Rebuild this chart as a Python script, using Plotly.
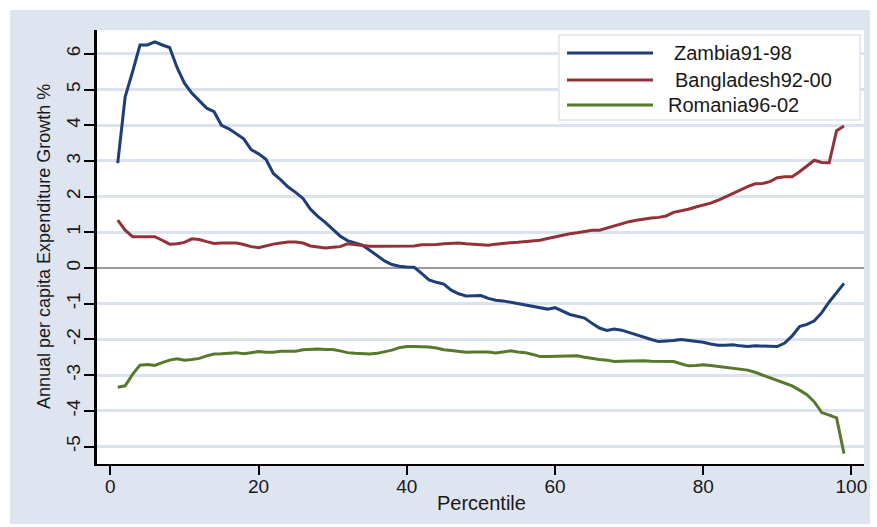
import plotly.graph_objects as go

percentile = list(range(1, 100))

zambia = [2.94, 4.8, 5.5, 6.25, 6.25, 6.34, 6.25, 6.18, 5.62, 5.18,
          4.9, 4.68, 4.48, 4.38, 4.0, 3.9, 3.75, 3.62, 3.32, 3.2,
          3.05, 2.65, 2.47, 2.27, 2.12, 1.95, 1.65, 1.45, 1.28, 1.1,
          0.9, 0.77, 0.7, 0.64, 0.5, 0.36, 0.2, 0.1, 0.05, 0.03,
          0.02, -0.15, -0.33, -0.4, -0.45, -0.62, -0.72, -0.78, -0.78, -0.77,
          -0.85, -0.9, -0.92, -0.96, -0.99, -1.03, -1.07, -1.12, -1.15, -1.11,
          -1.2, -1.3, -1.35, -1.4, -1.55, -1.68, -1.75, -1.71, -1.74, -1.81,
          -1.86, -1.93, -2.0, -2.06, -2.05, -2.03, -2.0, -2.02, -2.04, -2.08,
          -2.13, -2.16, -2.16, -2.15, -2.18, -2.2, -2.18, -2.18, -2.19, -2.2,
          -2.1, -1.9, -1.64, -1.58, -1.48, -1.25, -0.95, -0.68, -0.43]

bangladesh = [1.34, 1.06, 0.88, 0.88, 0.88, 0.88, 0.78, 0.67, 0.68, 0.72,
              0.82, 0.8, 0.74, 0.69, 0.7, 0.7, 0.7, 0.66, 0.6, 0.57,
              0.63, 0.67, 0.7, 0.73, 0.73, 0.7, 0.62, 0.58, 0.56, 0.58,
              0.6, 0.68, 0.66, 0.62, 0.61, 0.61, 0.61, 0.61, 0.61, 0.61,
              0.62, 0.65, 0.65, 0.66, 0.68, 0.69, 0.7, 0.68, 0.67, 0.66,
              0.64, 0.67, 0.7, 0.71, 0.72, 0.74, 0.76, 0.78, 0.83, 0.88,
              0.92, 0.96, 0.99, 1.03, 1.06, 1.06, 1.12, 1.2, 1.26, 1.3,
              1.34, 1.38, 1.4, 1.42, 1.46, 1.56, 1.6, 1.65, 1.71, 1.76,
              1.82, 1.9, 2.0, 2.1, 2.2, 2.28, 2.36, 2.37, 2.42, 2.53,
              2.56, 2.56, 2.7, 2.86, 3.02, 2.96, 2.95, 3.85, 3.98]

romania = [-3.34, -3.3, -2.98, -2.72, -2.7, -2.73, -2.65, -2.58, -2.54, -2.58,
           -2.56, -2.53, -2.46, -2.41, -2.4, -2.38, -2.37, -2.4, -2.38, -2.34,
           -2.36, -2.36, -2.33, -2.32, -2.33, -2.29, -2.27, -2.27, -2.28, -2.28,
           -2.32, -2.37, -2.39, -2.4, -2.41, -2.39, -2.35, -2.3, -2.23, -2.2,
           -2.2, -2.2, -2.21, -2.24, -2.29, -2.31, -2.33, -2.36, -2.35, -2.34,
           -2.35, -2.38, -2.34, -2.32, -2.35, -2.37, -2.42, -2.48, -2.48, -2.48,
           -2.48, -2.46, -2.46, -2.5, -2.54, -2.56, -2.58, -2.62, -2.61, -2.6,
           -2.6, -2.6, -2.61, -2.62, -2.62, -2.62, -2.68, -2.74, -2.73, -2.71,
           -2.73, -2.76, -2.78, -2.8, -2.83, -2.86, -2.92, -3.0, -3.08, -3.15,
           -3.22, -3.3, -3.42, -3.55, -3.75, -4.05, -4.12, -4.2, -5.2]

series_names = ["Zambia91-98", "Bangladesh92-00", "Romania96-02"]
series_values = [zambia, bangladesh, romania]
series_colors = ["rgb(30,62,118)", "rgb(146,50,56)", "rgb(88,120,45)"]

x_ticks = [0, 20, 40, 60, 80, 100]
x_ticktext = ["0", "20", "40", "60", "80", "100"]
y_ticks = [-5, -4, -3, -2, -1, 0, 1, 2, 3, 4, 5, 6]
y_ticktext = ["-5", "-4", "-3", "-2", "-1", "0", "1", "2", "3", "4", "5", "6"]

x_title = "Percentile"
y_title = "Annual per capita Expenditure Growth %"

BG = "rgb(222,228,240)"
GRID = "rgb(220,226,238)"
FONT = "Liberation Sans, Arial, sans-serif"
TXT = "rgb(25,25,25)"

W, H = 877, 527
L, R, T, B = 97, 13, 30, 63
pw, ph = W - L - R, H - T - B


def px_x(px):
    return (px - L) / pw


def px_y(py):
    return (H - B - py) / ph


fig = go.Figure()
for name, vals, col in zip(series_names, series_values, series_colors):
    fig.add_trace(go.Scatter(x=percentile, y=vals, mode="lines", name=name,
                             line=dict(color=col, width=3), showlegend=False))

shapes = [
    dict(type="rect", xref="paper", yref="paper", layer="below",
         x0=px_x(10), x1=px_x(870), y0=px_y(524), y1=px_y(10),
         fillcolor=BG, line=dict(width=0)),
    dict(type="rect", xref="paper", yref="paper", layer="below",
         x0=0, x1=1, y0=0, y1=1, fillcolor="white", line=dict(width=0)),
    # legend box
    dict(type="rect", xref="paper", yref="paper", layer="above",
         x0=px_x(559), x1=px_x(860), y0=px_y(120), y1=px_y(35),
         fillcolor="white", line=dict(color=GRID, width=1.5)),
]
annotations = [
    dict(xref="paper", yref="paper", x=px_x(481), y=px_y(503),
         xanchor="center", yanchor="middle", showarrow=False, text=x_title,
         font=dict(family=FONT, size=20, color=TXT)),
    dict(xref="paper", yref="paper", x=px_x(44), y=px_y(247),
         xanchor="center", yanchor="middle", showarrow=False, text=y_title,
         textangle=-90, font=dict(family=FONT, size=18, color=TXT)),
]
legend_rows = [53, 80, 105]
legend_text_x = [672, 673, 666]
for name, col, ry, tx in zip(series_names, series_colors, legend_rows, legend_text_x):
    shapes.append(dict(type="line", xref="paper", yref="paper", layer="above",
                       x0=px_x(567), x1=px_x(653), y0=px_y(ry), y1=px_y(ry),
                       line=dict(color=col, width=3)))
    annotations.append(dict(xref="paper", yref="paper", x=px_x(tx), y=px_y(ry),
                            xanchor="left", yanchor="middle", showarrow=False,
                            text=name, font=dict(family=FONT, size=20, color=TXT)))

fig.update_layout(
    width=W, height=H,
    margin=dict(l=L, r=R, t=T, b=B),
    paper_bgcolor="white",
    plot_bgcolor="white",
    font=dict(family=FONT, size=19, color=TXT),
    shapes=shapes,
    annotations=annotations,
    xaxis=dict(range=[-1.8, 101.7], tickvals=x_ticks, ticktext=x_ticktext,
               showgrid=False, zeroline=False, showline=True,
               linecolor="black", linewidth=2,
               ticks="outside", ticklen=9, tickwidth=2, tickcolor="black",
               tickfont=dict(size=19), ticklabelstandoff=-5, automargin=False),
    yaxis=dict(range=[-5.49, 6.67], tickvals=y_ticks, ticktext=y_ticktext,
               showgrid=True, gridcolor=GRID, gridwidth=2.5,
               zeroline=True, zerolinecolor="rgb(155,155,155)", zerolinewidth=2,
               showline=True, linecolor="black", linewidth=2.5,
               ticks="outside", ticklen=10, tickwidth=2, tickcolor="black",
               tickangle=-90, tickfont=dict(size=19), ticklabelstandoff=-3,
               automargin=False),
)

fig.write_html("out.html", config={"displayModeBar": False},
               post_script="document.body.style.margin='0px';document.body.style.overflow='hidden';")
